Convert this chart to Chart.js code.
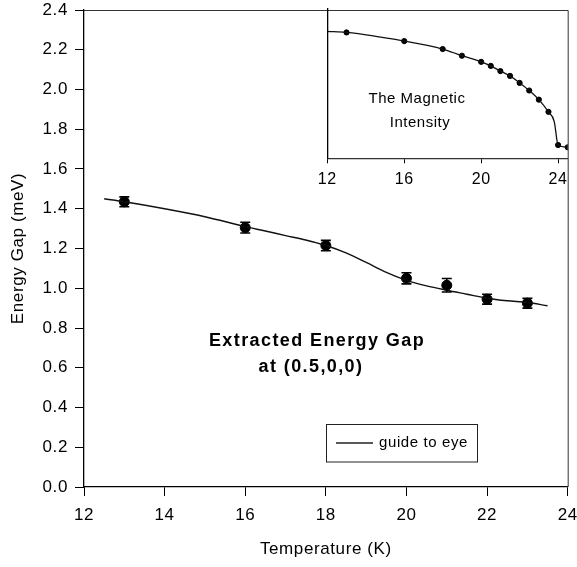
<!DOCTYPE html>
<html lang="en">
<head>
    <meta charset="UTF-8">
    <title>Extracted Energy Gap</title>
    <script src="https://cdn.jsdelivr.net/npm/chart.js"></script>
    <style>
        html, body { margin: 0; padding: 0; background: #fff; }
        #wrap { position: relative; width: 577px; height: 567px; }
        #mainChart { position: absolute; left: 0; top: 0; }
        #insetChart { position: absolute; left: 300px; top: 0; }
    </style>
</head>
<body>
    <div id="wrap">
        <canvas id="mainChart" width="577" height="567"></canvas>
        <canvas id="insetChart" width="277" height="200"></canvas>
    </div>

    <script>
        // energy gap measurements (K, meV) with error bars
        const tempK = [13, 16, 18, 20, 21, 22, 23];
        const gapMeV = [1.435, 1.305, 1.215, 1.05, 1.015, 0.945, 0.925];
        const gapErr = [0.025, 0.027, 0.026, 0.028, 0.034, 0.025, 0.025];

        // hand drawn guide curve
        const guideT = [12.5, 13, 14, 15, 16, 16.5, 17, 17.5, 18, 18.5, 19, 19.5, 20, 20.5, 21, 21.5, 22, 22.5, 23, 23.5];
        const guideGap = [1.45, 1.435, 1.40, 1.36, 1.31, 1.288, 1.265, 1.243, 1.215, 1.178, 1.13, 1.08, 1.04, 1.012, 0.99, 0.97, 0.95, 0.937, 0.928, 0.912];

        // inset: magnetic intensity (arb. units)
        const magT = [13, 16, 18, 19, 20, 20.5, 21, 21.5, 22, 22.5, 23, 23.5, 24, 24.5];
        const magI = [0.843, 0.785, 0.732, 0.687, 0.646, 0.619, 0.584, 0.552, 0.505, 0.454, 0.393, 0.311, 0.089, 0.074];
        const magLineT = [12, 13, 16, 18, 19, 20, 20.5, 21, 21.5, 22, 22.5, 23, 23.5, 23.8, 24, 24.5];
        const magLineI = [0.85, 0.843, 0.785, 0.732, 0.687, 0.646, 0.619, 0.584, 0.552, 0.505, 0.454, 0.393, 0.311, 0.246, 0.089, 0.074];

        const mainXTicks = [12, 14, 16, 18, 20, 22, 24];
        const mainYTicks = [0, 0.2, 0.4, 0.6, 0.8, 1.0, 1.2, 1.4, 1.6, 1.8, 2.0, 2.2, 2.4];
        const insetXTicks = [12, 16, 20, 24];

        const FONT = "'Liberation Sans', Arial, Helvetica, sans-serif";

        const toXY = (xs, ys) => xs.map((x, i) => ({ x: x, y: ys[i] }));
        const fixTicks = list => scale => { scale.ticks = list.map(v => ({ value: v })); };
        // fixed axis box, no extra room for overhanging labels
        const fitBox = (w, h) => scale => {
            if (w !== null) scale.width = w;
            if (h !== null) scale.height = h;
            scale.paddingLeft = 0;
            scale.paddingRight = 0;
            scale.paddingTop = 0;
            scale.paddingBottom = 0;
        };

        // spacing tweak for the scanned-looking type
        const spacingPlugin = {
            id: 'spacing',
            beforeDraw(chart) { chart.ctx.letterSpacing = '0.6px'; }
        };

        // error bars for the measured points
        const errorBars = {
            id: 'errorBars',
            afterDatasetsDraw(chart) {
                const ctx = chart.ctx, xs = chart.scales.x, ys = chart.scales.y;
                ctx.save();
                ctx.strokeStyle = '#000';
                ctx.lineWidth = 1.6;
                tempK.forEach((t, i) => {
                    const px = xs.getPixelForValue(t);
                    const top = ys.getPixelForValue(gapMeV[i] + gapErr[i]);
                    const bot = ys.getPixelForValue(gapMeV[i] - gapErr[i]);
                    ctx.beginPath();
                    ctx.moveTo(px, top); ctx.lineTo(px, bot);
                    ctx.moveTo(px - 5, top); ctx.lineTo(px + 5, top);
                    ctx.moveTo(px - 5, bot); ctx.lineTo(px + 5, bot);
                    ctx.stroke();
                });
                ctx.restore();
            }
        };

        // top/right frame, annotation text and legend box
        const mainDecor = {
            id: 'mainDecor',
            afterDraw(chart) {
                const ctx = chart.ctx, a = chart.chartArea;
                ctx.save();
                ctx.strokeStyle = '#333';
                ctx.lineWidth = 1;
                ctx.beginPath();
                ctx.moveTo(a.left, a.top + 0.5); ctx.lineTo(a.right + 0.5, a.top + 0.5);
                ctx.lineTo(a.right + 0.5, a.bottom);
                ctx.stroke();

                ctx.fillStyle = '#000';
                ctx.textAlign = 'center';
                ctx.textBaseline = 'middle';
                ctx.letterSpacing = '1.4px';
                ctx.font = 'bold 18px ' + FONT;
                ctx.fillText('Extracted Energy Gap', 317, 341);
                ctx.fillText('at (0.5,0,0)', 311, 367);

                // legend
                ctx.letterSpacing = '0.6px';
                ctx.strokeStyle = '#222';
                ctx.lineWidth = 1;
                ctx.strokeRect(326.5, 424.5, 151, 37.5);
                ctx.lineWidth = 1.3;
                ctx.beginPath();
                ctx.moveTo(336, 443); ctx.lineTo(373, 443);
                ctx.stroke();
                ctx.textAlign = 'left';
                ctx.font = '15px ' + FONT;
                ctx.fillText(chart.data.datasets[0].label, 379, 443);
                ctx.restore();
            }
        };

        const axisFont = { family: FONT, size: 17 };

        new Chart(document.getElementById('mainChart'), {
            type: 'scatter',
            data: {
                datasets: [
                    {
                        label: 'guide to eye',
                        data: toXY(guideT, guideGap),
                        showLine: true,
                        borderColor: '#111',
                        borderWidth: 1.4,
                        pointRadius: 0,
                        cubicInterpolationMode: 'monotone'
                    },
                    {
                        label: 'Energy gap',
                        data: toXY(tempK, gapMeV),
                        pointRadius: 5,
                        pointBackgroundColor: '#000',
                        pointBorderColor: '#000'
                    }
                ]
            },
            options: {
                responsive: false,
                animation: false,
                devicePixelRatio: 1,
                layout: { padding: { top: 10, right: 9.3, left: 0, bottom: 0 } },
                plugins: { legend: { display: false }, tooltip: { enabled: false } },
                scales: {
                    x: {
                        type: 'linear',
                        min: 12, max: 24,
                        afterBuildTicks: fixTicks(mainXTicks),
                        afterFit: fitBox(null, 80),
                        ticks: { color: '#000', font: axisFont, padding: 9, maxRotation: 0 },
                        grid: { drawOnChartArea: false, tickLength: 9, tickColor: '#000', tickWidth: 1 },
                        border: { color: '#000', width: 1.3 },
                        title: { display: true, text: 'Temperature (K)', color: '#000', font: axisFont, padding: { top: 0, bottom: 7 } }
                    },
                    y: {
                        min: 0, max: 2.4,
                        afterBuildTicks: fixTicks(mainYTicks),
                        afterFit: fitBox(84, null),
                        ticks: { color: '#000', font: axisFont, padding: 7, callback: v => v.toFixed(1) },
                        grid: { drawOnChartArea: false, tickLength: 9, tickColor: '#000', tickWidth: 1 },
                        border: { color: '#000', width: 1.3 },
                        title: { display: true, text: 'Energy Gap (meV)', color: '#000', font: axisFont, padding: { top: 8, bottom: 0 } }
                    }
                }
            },
            plugins: [spacingPlugin, errorBars, mainDecor]
        });

        // inset label
        const insetDecor = {
            id: 'insetDecor',
            afterDraw(chart) {
                const ctx = chart.ctx;
                ctx.save();
                ctx.letterSpacing = '0.5px';
                ctx.fillStyle = '#000';
                ctx.textAlign = 'center';
                ctx.textBaseline = 'middle';
                ctx.font = '15px ' + FONT;
                ctx.fillText('The Magnetic', 117, 99);
                ctx.fillText('Intensity', 120, 123);
                ctx.restore();
            }
        };

        new Chart(document.getElementById('insetChart'), {
            type: 'scatter',
            data: {
                datasets: [
                    {
                        label: 'Magnetic intensity curve',
                        data: toXY(magLineT, magLineI),
                        showLine: true,
                        borderColor: '#111',
                        borderWidth: 1.3,
                        pointRadius: 0,
                        cubicInterpolationMode: 'monotone'
                    },
                    {
                        label: 'Magnetic intensity',
                        data: toXY(magT, magI),
                        pointRadius: 2.6,
                        pointBackgroundColor: '#000',
                        pointBorderColor: '#000'
                    }
                ]
            },
            options: {
                responsive: false,
                animation: false,
                devicePixelRatio: 1,
                layout: { padding: { top: 9, right: 9.3, left: 0, bottom: 0 } },
                plugins: { legend: { display: false }, tooltip: { enabled: false } },
                scales: {
                    x: {
                        type: 'linear',
                        min: 12, max: 24.5,
                        afterBuildTicks: fixTicks(insetXTicks),
                        afterFit: fitBox(null, 41.7),
                        ticks: { color: '#000', font: { family: FONT, size: 16 }, padding: 7, maxRotation: 0 },
                        grid: { drawOnChartArea: false, tickLength: 5, tickColor: '#000' },
                        border: { color: '#333', width: 1.2 }
                    },
                    y: {
                        min: 0, max: 1,
                        afterFit: fitBox(27.3, null),
                        ticks: { display: false },
                        grid: { display: false },
                        border: { display: true, color: '#000', width: 1.3 }
                    }
                }
            },
            plugins: [spacingPlugin, insetDecor]
        });
    </script>
</body>
</html>
